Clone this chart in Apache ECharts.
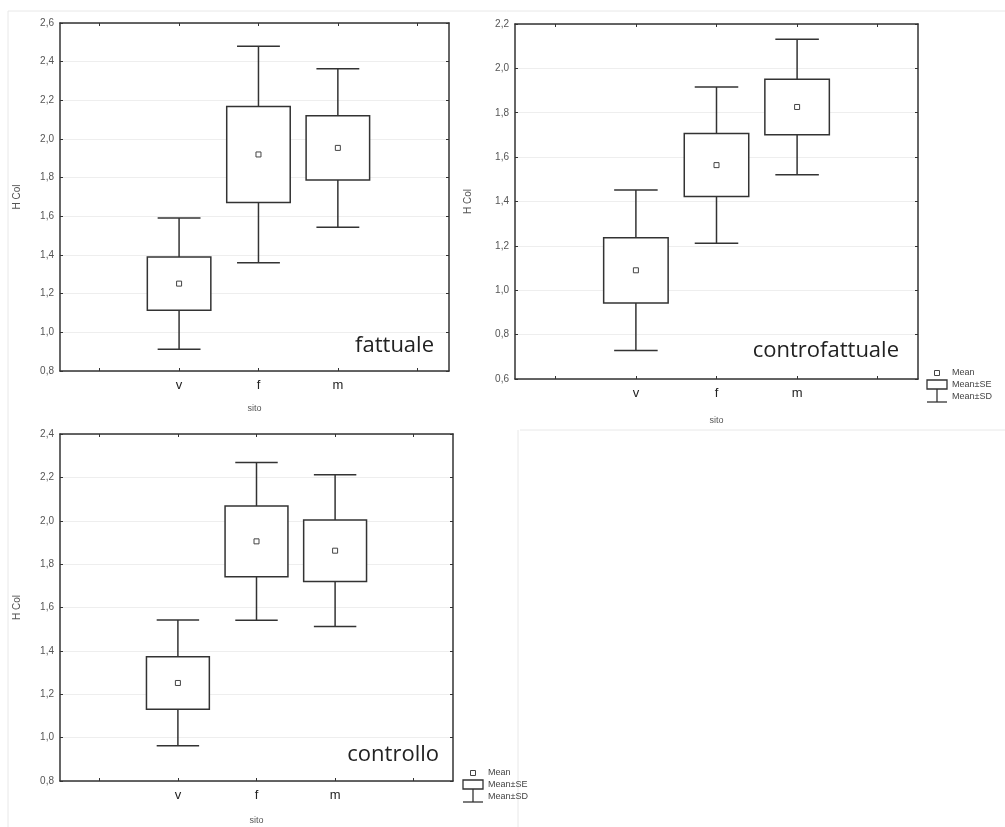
<!DOCTYPE html>
<html>
<head>
<meta charset="utf-8">
<script src="https://cdn.jsdelivr.net/npm/echarts@6/dist/echarts.min.js"></script>
<style>
  html, body { margin: 0; padding: 0; background: #fff; }
  #chart { width: 1005px; height: 827px; }
</style>
</head>
<body>
<div id="chart"></div>
<script>
// Sites on the x axis
const sites = ['v', 'f', 'm'];

// fattuale: mean, standard error, standard deviation of H Col per site
const fattualeMean = [1.252, 1.920, 1.954];
const fattualeSE = [0.138, 0.248, 0.166];
const fattualeSD = [0.340, 0.560, 0.410];

// controfattuale
const controMean = [1.090, 1.564, 1.826];
const controSE = [0.147, 0.142, 0.125];
const controSD = [0.362, 0.352, 0.305];

// controllo
const controlloMean = [1.252, 1.905, 1.862];
const controlloSE = [0.121, 0.163, 0.142];
const controlloSD = [0.290, 0.364, 0.350];

// y tick ranges per panel
const yRangeFattuale = [0.8, 2.6];
const yRangeContro = [0.6, 2.2];
const yRangeControllo = [0.8, 2.4];

const panelNames = ['fattuale', 'controfattuale', 'controllo'];
const legendLabels = ['Mean', 'Mean\u00b1SE', 'Mean\u00b1SD'];

const INK = '#333';
const LABEL = '#555';

function toRows(mean, se, sd) {
  return sites.map((s, i) => [i + 1, mean[i], se[i], sd[i]]);
}

function renderMeanSeSd(params, api) {
  const x = api.value(0), m = api.value(1), se = api.value(2), sd = api.value(3);
  const c = api.coord([x, m]);
  const seTop = api.coord([x, m + se])[1];
  const seBot = api.coord([x, m - se])[1];
  const sdTop = api.coord([x, m + sd])[1];
  const sdBot = api.coord([x, m - sd])[1];
  const bw = api.size([0.8, 0])[0];
  const cw = api.size([0.54, 0])[0];
  const ls = { stroke: INK, lineWidth: 1.5, fill: null };
  return {
    type: 'group',
    children: [
      { type: 'line', shape: { x1: c[0], y1: sdTop, x2: c[0], y2: seTop }, style: ls },
      { type: 'line', shape: { x1: c[0], y1: seBot, x2: c[0], y2: sdBot }, style: ls },
      { type: 'line', shape: { x1: c[0] - cw / 2, y1: sdTop, x2: c[0] + cw / 2, y2: sdTop }, style: ls },
      { type: 'line', shape: { x1: c[0] - cw / 2, y1: sdBot, x2: c[0] + cw / 2, y2: sdBot }, style: ls },
      { type: 'rect', shape: { x: c[0] - bw / 2, y: seTop, width: bw, height: seBot - seTop },
        style: { stroke: INK, lineWidth: 1.5, fill: '#fff' } },
      { type: 'rect', shape: { x: c[0] - 2.5, y: c[1] - 2.5, width: 5, height: 5 },
        style: { stroke: '#444', lineWidth: 1, fill: '#fff' } }
    ]
  };
}

const grids = [
  { left: 60, top: 23, width: 389, height: 348 },
  { left: 515, top: 24, width: 403, height: 355 },
  { left: 60, top: 434, width: 393, height: 347 }
];
const xMax = [4.4, 4.5, 4.5];
const yRanges = [yRangeFattuale, yRangeContro, yRangeControllo];
const xNameGap = [33, 37, 35];
const yNameGap = [38, 42, 38];

const xAxes = [], yAxes = [];
grids.forEach((g, i) => {
  const axisLine = { show: true, onZero: false, lineStyle: { color: INK, width: 1.5 } };
  xAxes.push({
    type: 'value', gridIndex: i, min: -0.5, max: xMax[i], position: 'bottom',
    axisLine, splitLine: { show: false },
    axisTick: { show: true, inside: true, length: 3, customValues: [0, 1, 2, 3, 4], lineStyle: { color: INK } },
    axisLabel: { show: true, customValues: [1, 2, 3], margin: 8, color: '#222', fontSize: 13,
      fontFamily: 'Liberation Sans', formatter: v => sites[Math.round(v) - 1] || '' },
    name: 'sito', nameLocation: 'middle', nameGap: xNameGap[i],
    nameTextStyle: { color: LABEL, fontSize: 9, fontFamily: 'Liberation Sans' }
  });
  xAxes.push({
    type: 'value', gridIndex: i, min: -0.5, max: xMax[i], position: 'top',
    axisLine, splitLine: { show: false },
    axisTick: { show: true, inside: true, length: 3, customValues: [0, 1, 2, 3, 4], lineStyle: { color: INK } },
    axisLabel: { show: false }
  });
  yAxes.push({
    type: 'value', gridIndex: i, min: yRanges[i][0], max: yRanges[i][1], interval: 0.2, position: 'left',
    axisLine,
    axisTick: { show: true, inside: true, length: 3, lineStyle: { color: INK } },
    splitLine: { show: true, lineStyle: { color: '#eeeeee', width: 1 } },
    axisLabel: { margin: 6, color: LABEL, fontSize: 10, fontFamily: 'Liberation Sans',
      formatter: v => v.toFixed(1).replace('.', ',') },
    name: 'H Col', nameLocation: 'middle', nameRotate: 90, nameGap: yNameGap[i],
    nameTextStyle: { color: LABEL, fontSize: 10, fontFamily: 'Liberation Sans' }
  });
  yAxes.push({
    type: 'value', gridIndex: i, min: yRanges[i][0], max: yRanges[i][1], interval: 0.2, position: 'right',
    axisLine,
    axisTick: { show: true, inside: true, length: 3, lineStyle: { color: INK } },
    splitLine: { show: false }, axisLabel: { show: false }
  });
});

const panelData = [
  toRows(fattualeMean, fattualeSE, fattualeSD),
  toRows(controMean, controSE, controSD),
  toRows(controlloMean, controlloSE, controlloSD)
];

const series = panelData.map((rows, i) => ({
  type: 'custom',
  name: panelNames[i],
  xAxisIndex: i * 2,
  yAxisIndex: i * 2,
  renderItem: renderMeanSeSd,
  encode: { x: 0, y: 1 },
  data: rows,
  silent: true,
  z: 5
}));

// Panel captions inside each plot
const captionPos = [[434, 346], [899, 351], [439, 755]];
const captions = panelNames.map((t, i) => ({
  type: 'text', x: captionPos[i][0], y: captionPos[i][1], z: 10,
  style: { text: t, align: 'right', verticalAlign: 'middle', fill: '#222',
    font: '22px "Open Sans", "Liberation Sans", sans-serif' }
}));

// Key for the mean / SE box / SD whisker symbols
function keyGroup(x, y) {
  const ts = { fill: '#444', font: '9px "Liberation Sans", sans-serif', verticalAlign: 'middle' };
  return {
    type: 'group', x, y, z: 10,
    children: [
      { type: 'rect', shape: { x: 8.5, y: -2.5, width: 5, height: 5 }, style: { stroke: '#444', lineWidth: 1, fill: '#fff' } },
      { type: 'text', x: 26, y: 0, style: Object.assign({ text: legendLabels[0] }, ts) },
      { type: 'rect', shape: { x: 1, y: 7, width: 20, height: 9 }, style: { stroke: INK, lineWidth: 1.3, fill: '#fff' } },
      { type: 'text', x: 26, y: 12, style: Object.assign({ text: legendLabels[1] }, ts) },
      { type: 'line', shape: { x1: 11, y1: 16, x2: 11, y2: 29 }, style: { stroke: INK, lineWidth: 1.3 } },
      { type: 'line', shape: { x1: 1, y1: 29, x2: 21, y2: 29 }, style: { stroke: INK, lineWidth: 1.3 } },
      { type: 'text', x: 26, y: 24, style: Object.assign({ text: legendLabels[2] }, ts) }
    ]
  };
}

// Faint panel frame lines
const frameStyle = { stroke: '#e8e8e8', lineWidth: 1 };
const frames = [
  { type: 'line', shape: { x1: 8, y1: 11, x2: 1005, y2: 11 }, style: frameStyle },
  { type: 'line', shape: { x1: 8, y1: 11, x2: 8, y2: 827 }, style: frameStyle },
  { type: 'line', shape: { x1: 520, y1: 430, x2: 1005, y2: 430 }, style: frameStyle },
  { type: 'line', shape: { x1: 518, y1: 430, x2: 518, y2: 827 }, style: frameStyle }
];

const chart = echarts.init(document.getElementById('chart'), null, { renderer: 'canvas' });
chart.setOption({
  animation: false,
  backgroundColor: '#fff',
  grid: grids.map(g => Object.assign({ containLabel: false }, g)),
  xAxis: xAxes,
  yAxis: yAxes,
  series,
  graphic: frames.concat(captions, [keyGroup(926, 373), keyGroup(462, 773)])
});
</script>
</body>
</html>
